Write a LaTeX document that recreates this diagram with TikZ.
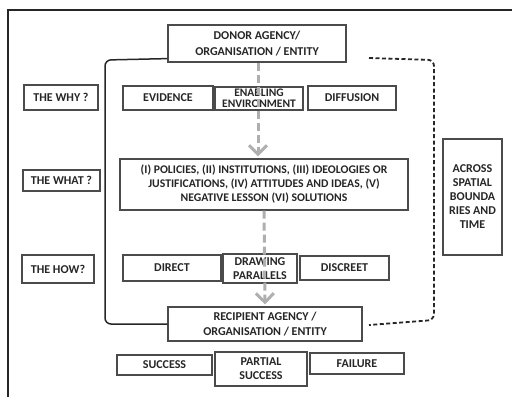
\documentclass[tikz,border=0pt]{standalone}
\usepackage{fontspec}
\setmainfont{Carlito}
\usetikzlibrary{positioning,calc}
\usetikzlibrary{arrows.meta}
\definecolor{InkGray}{RGB}{38,38,38}
\definecolor{BoxGray}{RGB}{75,75,75}
\definecolor{FlowGray}{RGB}{175,175,175}
\tikzset{
  box/.style={draw=BoxGray,fill=white,line width=1.2pt,inner sep=0pt,align=center,
    text=InkGray,font=\fontsize{12}{14}\selectfont\bfseries},
  bracket/.style={draw=black!85,line width=1.5pt,rounded corners=6pt},
  dbracket/.style={bracket,line width=1.8pt,dash pattern=on 4pt off 2.5pt},
  flow/.style={draw=FlowGray,line width=3pt,dash pattern=on 8pt off 4pt,
    -{Straight Barb[length=9pt,width=18pt]},shorten >=2pt},
}

\begin{document}
\begin{tikzpicture}[x=1pt,y=-1pt]
\useasboundingbox (0,0) rectangle (512,397);
\draw[black!85,line width=2pt] (8,397) -- (8,10) -- (512,10);
% agencies
\node[box,minimum width=178pt,minimum height=37pt,font=\fontsize{12}{16}\selectfont\bfseries]
  (donor) at (257,43.5) {DONOR AGENCY/\\ORGANISATION / ENTITY};
\node[box,minimum width=194pt,minimum height=34pt,font=\fontsize{12}{15.5}\selectfont\bfseries]
  (recipient) at (265,324) {RECIPIENT AGENCY /\\ORGANISATION / ENTITY};
% questions
\node[box,minimum width=74pt,minimum height=25pt] (why) at (61,97.5) {THE WHY ?};
\node[box,minimum width=77pt,minimum height=21pt] (what) at (61.5,180.5) {THE WHAT ?};
\node[box,minimum width=72pt,minimum height=28pt] (how) at (58,269) {THE HOW?};
% why
\node[box,minimum width=90pt,minimum height=24pt] (evidence) at (168,98) {EVIDENCE};
\node[box,minimum width=88pt,minimum height=23pt,font=\fontsize{11.5}{11}\selectfont\bfseries]
  (enabling) at (259,98.5) {ENABLING\\ENVIRONMENT};
\node[box,minimum width=88pt,minimum height=24pt] (diffusion) at (352,98) {DIFFUSION};
% what
\node[box,minimum width=288pt,minimum height=51pt,font=\fontsize{11.7}{14}\selectfont\bfseries]
  (what list) at (264,184.5)
  {(I) POLICIES, (II) INSTITUTIONS, (III) IDEOLOGIES OR\\
   JUSTIFICATIONS, (IV) ATTITUDES AND IDEAS, (V)\\
   NEGATIVE LESSON (VI) SOLUTIONS};
% how
\node[box,minimum width=98pt,minimum height=26pt] (direct) at (172,268) {DIRECT};
\node[box,minimum width=74pt,minimum height=29pt] (drawing) at (260,268.5) {DRAWING\\PARALLELS};
\node[box,minimum width=89pt,minimum height=24pt] (discreet) at (344.5,268) {DISCREET};
% outcomes
\node[box,minimum width=95pt,minimum height=20pt] (success) at (164.5,365) {SUCCESS};
\node[box,minimum width=92pt,minimum height=34pt] (partial) at (261,369) {PARTIAL\\SUCCESS};
\node[box,minimum width=94pt,minimum height=21pt] (failure) at (357,363.5) {FAILURE};
\node[box,minimum width=59pt,minimum height=116pt] (across) at (472.5,197)
  {ACROSS\\SPATIAL\\BOUNDA\\RIES AND\\TIME};
% brackets
\coordinate (lt) at (105,60);
\coordinate (lb) at (105,324);
\draw[bracket] ([yshift=4pt]donor.south west) -- (lt) -- (lb) -- (recipient.west);
\coordinate (rs) at (369,58);
\coordinate (rt) at (434,60);
\coordinate (rb) at (434,320);
\coordinate (re) at (369,325);
\draw[dbracket] (rs) -- (rt) -- (rb) -- (re);
% flow
\draw[flow] ([xshift=1pt]donor.south) -- ([xshift=-6pt]what list.north);
\draw[flow] (what list.south) -- (recipient.north);
\end{tikzpicture}
\end{document}
